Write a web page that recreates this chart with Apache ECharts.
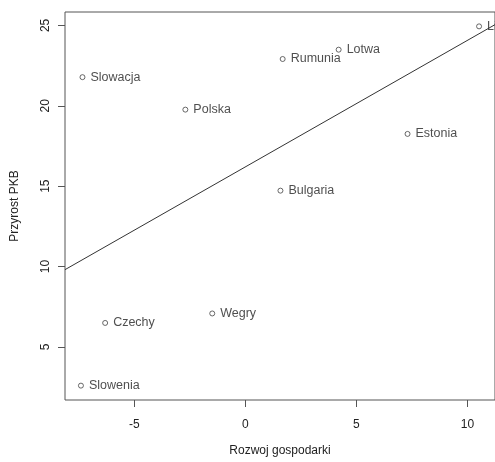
<!DOCTYPE html>
<html>
<head>
<meta charset="utf-8">
<script src="https://cdn.jsdelivr.net/npm/echarts@6/dist/echarts.min.js"></script>
<style>html,body{margin:0;padding:0;background:#fff;}#c{width:495px;height:462px;}</style>
</head>
<body>
<div id="c"></div>
<script>
const countries = ["Slowacja","Polska","Rumunia","Lotwa","Litwa","Estonia","Bulgaria","Czechy","Wegry","Slowenia"];
const rozwoj = [-7.33,-2.70,1.68,4.20,10.52,7.30,1.58,-6.31,-1.49,-7.40];
const przyrost = [21.78,19.76,22.91,23.49,24.94,18.25,14.72,6.49,7.08,2.59];
const xTicks = [-5,0,5,10];
const yTicks = [5,10,15,20,25];

// R-style axis range (data range extended by 4%)
function ext(a){const mn=Math.min(...a),mx=Math.max(...a),r=mx-mn;return [mn-0.04*r,mx+0.04*r];}
const [xMin,xMax]=ext(rozwoj);
const [yMin,yMax]=ext(przyrost);

// least squares fit (abline(lm(y~x)))
const n=rozwoj.length;
const mx=rozwoj.reduce((s,v)=>s+v,0)/n, my=przyrost.reduce((s,v)=>s+v,0)/n;
let sxy=0,sxx=0;
for(let i=0;i<n;i++){sxy+=(rozwoj[i]-mx)*(przyrost[i]-my);sxx+=(rozwoj[i]-mx)**2;}
const b=sxy/sxx,a=my-b*mx;

const pts=countries.map((c,i)=>({name:c,value:[rozwoj[i],przyrost[i]]}));
const FONT="Liberation Sans, Arial, sans-serif";
const chart=echarts.init(document.getElementById('c'),null,{renderer:'canvas'});
chart.setOption({
  animation:false,
  backgroundColor:'#fff',
  grid:{left:65,top:12,right:-7,bottom:59,show:true,borderColor:'#555',borderWidth:1,backgroundColor:'transparent'},
  xAxis:{type:'value',min:xMin,max:xMax,
    name:'Rozwoj gospodarki',nameLocation:'middle',nameGap:45,
    nameTextStyle:{fontFamily:FONT,fontSize:12,color:'#222'},
    axisLine:{show:false,onZero:false},splitLine:{show:false},
    axisTick:{show:true,length:7,lineStyle:{color:'#555'},customValues:xTicks},
    axisLabel:{fontFamily:FONT,fontSize:12,color:'#222',margin:19,customValues:xTicks}},
  yAxis:{type:'value',min:yMin,max:yMax,
    name:'Przyrost PKB',nameLocation:'middle',nameGap:44,
    nameTextStyle:{fontFamily:FONT,fontSize:12,color:'#222'},
    axisLine:{show:false,onZero:false},splitLine:{show:false},
    axisTick:{show:true,length:7,lineStyle:{color:'#555'},customValues:yTicks},
    axisLabel:{fontFamily:FONT,fontSize:12,color:'#222',margin:13,rotate:90,customValues:yTicks}},
  series:[
    {type:'line',data:[[xMin,a+b*xMin],[xMax,a+b*xMax]],showSymbol:false,
      lineStyle:{color:'#333',width:1},clip:true,silent:true},
    {type:'scatter',data:pts,symbol:'circle',symbolSize:5,
      itemStyle:{color:'#fff',borderColor:'#444',borderWidth:1},
      label:{show:true,position:'right',distance:5,formatter:'{b}',
        fontFamily:FONT,fontSize:12.5,color:'#222'}}
  ]
});
</script>
</body>
</html>
